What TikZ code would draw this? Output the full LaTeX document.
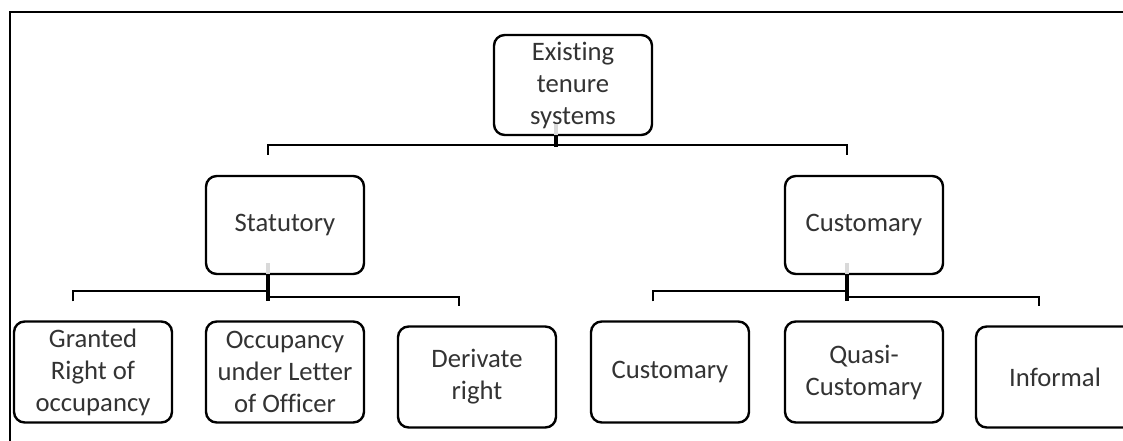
\documentclass[tikz,border=0pt]{standalone}
\usepackage{fontspec}
\setmainfont{Carlito}[RawFeature={-liga}]
\usetikzlibrary{calc}
\tikzset{
  box/.style={draw=black, line width=1.8pt, rounded corners=8pt, minimum width=118.5pt, minimum height=75pt, inner sep=0pt, align=center, text=black!80, font=\fontsize{20}{24}\selectfont},
  conn/.style={draw=black, line width=1.8pt},
  trunk/.style={draw=black, line width=2.4pt},
  ghost/.style={draw=black!15, line width=2.4pt},
  frame/.style={draw=black, line width=1.9pt}
}
\begin{document}
\begin{tikzpicture}[x=0.75pt, y=-0.75pt]
\useasboundingbox (0,0) rectangle (1123,441);
\clip (0,0) rectangle (1123,441);
\fill[white] (0,0) rectangle (1123,441);
\draw[frame] (10,460) -- (10,12) -- (1140,12);
% nodes
\node[box, minimum height=75pt] (root) at (573,85) {Existing\\tenure\\systems};
\node[box, minimum height=73.5pt] (stat) at (285,225) {Statutory};
\node[box, minimum height=73.5pt] (cust) at (864,225) {Customary};
\node[box, minimum height=75.75pt] (gran) at (93,372) {Granted\\Right of\\occupancy};
\node[box, minimum height=75.75pt] (occ) at (285,372) {Occupancy\\under Letter\\of Officer};
\node[box, minimum height=75.75pt] (der) at (477,377) {Derivate\\right};
\node[box, minimum height=75.75pt] (cust2) at (670,372) {Customary};
\node[box, minimum height=75.75pt] (quasi) at (864,372) {Quasi-\\Customary};
\node[box, minimum height=75.75pt] (inf) at (1055,377) {Informal};
% root connectors
\draw[ghost] ($(root.south)+(-17,-12)$) -- ($(root.south)+(-17,-1)$);
\draw[trunk] ($(root.south)+(-17,0)$) -- ($(root.south)+(-17,11)$);
\draw[conn] ($(stat.north)+(-17,-20)$) |- ($(cust.north)+(-17,-30)$) -- ($(cust.north)+(-17,-20)$);
% statutory connectors
\draw[ghost] ($(stat.south)+(-17,-12)$) -- ($(stat.south)+(-17,-1)$);
\draw[trunk] ($(stat.south)+(-17,0)$) -- ($(occ.north)+(-17,-19)$);
\draw[conn] ($(gran.north)+(-20,-19)$) |- ($(stat.south)+(-17,16)$);
\draw[conn] ($(stat.south)+(-17,22)$) -| ($(der.north)+(-18,-19)$);
% customary connectors
\draw[ghost] ($(cust.south)+(-17,-12)$) -- ($(cust.south)+(-17,-1)$);
\draw[trunk] ($(cust.south)+(-17,0)$) -- ($(quasi.north)+(-17,-19)$);
\draw[conn] ($(cust2.north)+(-17,-19)$) |- ($(cust.south)+(-17,16)$);
\draw[conn] ($(cust.south)+(-17,22)$) -| ($(inf.north)+(-16,-19)$);
\end{tikzpicture}
\end{document}
